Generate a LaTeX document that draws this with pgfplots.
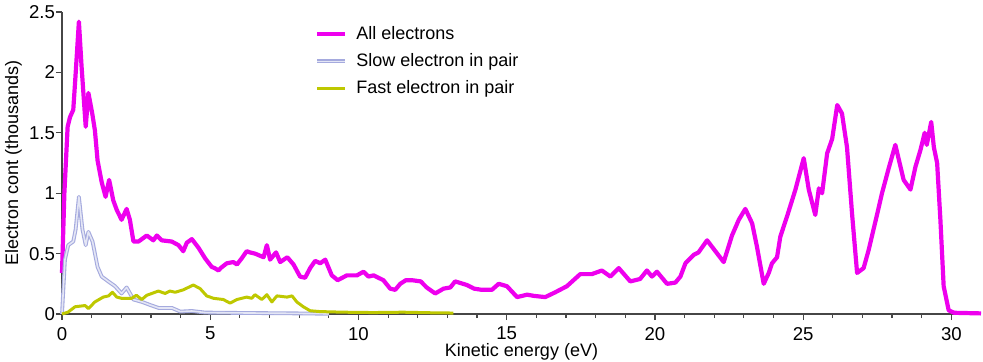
\documentclass[border=0pt]{standalone}
\usepackage{pgfplots}
\pgfplotsset{compat=1.18}
\usepackage{fontspec}
\setmainfont{Liberation Sans}
\definecolor{allc}{RGB}{238,0,238}
\definecolor{slowc}{RGB}{165,170,222}
\definecolor{fastc}{RGB}{190,200,0}
\definecolor{axc}{RGB}{70,70,70}
\begin{document}
\begin{tikzpicture}
\begin{axis}[
  at={(0,0)}, anchor=south west,
  scale only axis, width=459.5pt, height=151pt,
  xmin=0, xmax=31, ymin=0, ymax=2.5,
  axis lines=left, axis line style={axc, -, line width=0.8pt},
  xtick={0,5,...,30}, minor x tick num=4,
  ytick={0,0.5,...,2.5},
  yticklabels={0,0.5,1,1.5,2,2.5},
  tick align=outside, tick pos=left,
  major tick length=3pt, minor tick length=2pt,
  tick style={axc, line width=0.6pt},
  /pgf/number format/assume math mode=true,
  tick label style={font=\fontsize{9.3}{11}\selectfont, text=black},
  yticklabel style={xshift=3pt},
  xlabel={Kinetic energy (eV)}, ylabel={Electron cont (thousands)},
  label style={font=\fontsize{9}{11}\selectfont},
  xlabel style={at={(rel axis cs:0.5,0)}, anchor=north, yshift=-11pt},
  ylabel style={at={(rel axis cs:0,0.5)}, anchor=south, yshift=16.5pt},
  legend style={at={(rel axis cs:0.275,0.968)}, anchor=north west, draw=none, fill=none,
    font=\fontsize{9}{11}\selectfont, row sep=1.6pt, inner sep=0pt,
    /tikz/every odd column/.style={column sep=2.5pt}},
  legend cell align=left,
  legend image code/.code={\draw[#1] (0pt,0pt) -- (14pt,0pt);},
  clip=false,
]
\addplot[allc, line width=2.1pt, line join=round] coordinates {
(0,0.34)(0.08,1.0)(0.19,1.55)(0.27,1.63)(0.38,1.69)(0.45,1.95)(0.57,2.42)(0.66,2.05)
(0.8,1.55)(0.89,1.83)(1.02,1.66)(1.11,1.52)(1.2,1.27)(1.34,1.09)(1.47,0.97)(1.59,1.11)
(1.73,0.94)(1.85,0.86)(2.01,0.78)(2.18,0.87)(2.29,0.78)(2.41,0.6)(2.58,0.6)(2.86,0.65)
(3.08,0.61)(3.2,0.65)(3.36,0.61)(3.7,0.6)(3.93,0.57)(4.09,0.52)(4.21,0.59)(4.38,0.62)
(4.6,0.55)(4.83,0.46)(5.05,0.39)(5.15,0.38)(5.28,0.36)(5.35,0.38)(5.56,0.42)(5.78,0.43)
(5.9,0.41)(6.06,0.46)(6.23,0.52)(6.34,0.51)(6.51,0.50)(6.8,0.47)(6.91,0.57)(7.02,0.45)
(7.22,0.51)(7.36,0.43)(7.6,0.47)(7.81,0.41)(8.03,0.31)(8.2,0.30)(8.37,0.38)(8.54,0.44)
(8.71,0.42)(8.88,0.45)(9.1,0.32)(9.3,0.28)(9.61,0.32)(9.95,0.32)(10.17,0.35)(10.34,0.31)
(10.51,0.32)(10.84,0.28)(11.07,0.21)(11.24,0.20)(11.41,0.25)(11.6,0.28)(11.8,0.28)
(12.1,0.27)(12.3,0.22)(12.59,0.17)(12.87,0.21)(13.1,0.22)(13.26,0.27)(13.66,0.24)
(13.9,0.21)(14.16,0.20)(14.5,0.20)(14.73,0.25)(15.01,0.23)(15.35,0.14)(15.69,0.16)
(15.92,0.15)(16.3,0.14)(16.64,0.18)(17.03,0.23)(17.48,0.33)(17.87,0.33)(18.21,0.36)
(18.5,0.31)(18.78,0.38)(19.17,0.27)(19.5,0.29)(19.73,0.36)(19.9,0.31)(20.07,0.35)
(20.41,0.25)(20.69,0.26)(20.86,0.31)(21.03,0.42)(21.31,0.49)(21.47,0.51)(21.76,0.61)
(22.04,0.52)(22.32,0.43)(22.6,0.65)(22.83,0.78)(23.05,0.87)(23.28,0.75)(23.44,0.56)
(23.67,0.25)(23.84,0.34)(23.95,0.42)(24.12,0.47)(24.23,0.64)(24.46,0.81)(24.74,1.03)
(25.02,1.29)(25.19,1.03)(25.41,0.82)(25.53,1.04)(25.64,1.00)(25.81,1.33)(25.98,1.45)
(26.15,1.73)(26.31,1.66)(26.48,1.38)(26.65,0.83)(26.82,0.34)(27.04,0.38)(27.21,0.53)
(27.5,0.83)(27.66,1.00)(27.89,1.21)(28.11,1.40)(28.39,1.11)(28.62,1.03)(28.79,1.22)
(28.96,1.36)(29.1,1.50)(29.17,1.40)(29.32,1.59)(29.41,1.38)(29.52,1.25)(29.63,0.78)
(29.74,0.23)(29.91,0.03)(30.1,0.01)(31,0.005)
};
\addlegendentry{All electrons}
\addplot[slowc, line width=0.55pt, double=white!70!slowc, double distance=0.8pt, line join=round] coordinates {
(0,0)(0.1,0.45)(0.21,0.57)(0.38,0.6)(0.46,0.7)(0.57,0.97)(0.69,0.7)(0.8,0.57)(0.89,0.68)
(1.03,0.6)(1.2,0.39)(1.34,0.31)(1.56,0.27)(1.79,0.23)(2.01,0.17)(2.18,0.22)(2.41,0.12)
(2.7,0.1)(2.97,0.075)(3.26,0.05)(3.71,0.05)(3.99,0.02)(4.38,0.025)(4.83,0.012)(5.5,0.01)
(6.5,0.008)(8,0.005)(9,0.002)
};
\addlegendentry{Slow electron in pair}
\addplot[fastc, line width=1.5pt, line join=round] coordinates {
(0,0)(0.2,0.015)(0.44,0.06)(0.78,0.07)(0.89,0.045)(1.11,0.1)(1.39,0.14)(1.57,0.15)
(1.7,0.18)(1.85,0.14)(2.01,0.13)(2.35,0.13)(2.51,0.155)(2.69,0.12)(2.86,0.155)(3.14,0.18)
(3.25,0.19)(3.48,0.17)(3.64,0.19)(3.82,0.18)(4.09,0.2)(4.43,0.24)(4.66,0.21)(4.88,0.15)
(5.11,0.13)(5.44,0.12)(5.67,0.09)(5.9,0.12)(6.23,0.14)(6.4,0.13)(6.51,0.16)(6.74,0.12)
(6.91,0.16)(7.08,0.1)(7.25,0.15)(7.59,0.14)(7.76,0.15)(7.92,0.1)(8.14,0.06)(8.37,0.027)
(8.71,0.02)(9.5,0.015)(10.5,0.012)(11.5,0.015)(12.5,0.01)(13.2,0.008)
};
\addlegendentry{Fast electron in pair}
\end{axis}
\pgfresetboundingbox
\path (-31pt,-23.5pt) rectangle (460.5pt,157pt);
\end{tikzpicture}
\end{document}
